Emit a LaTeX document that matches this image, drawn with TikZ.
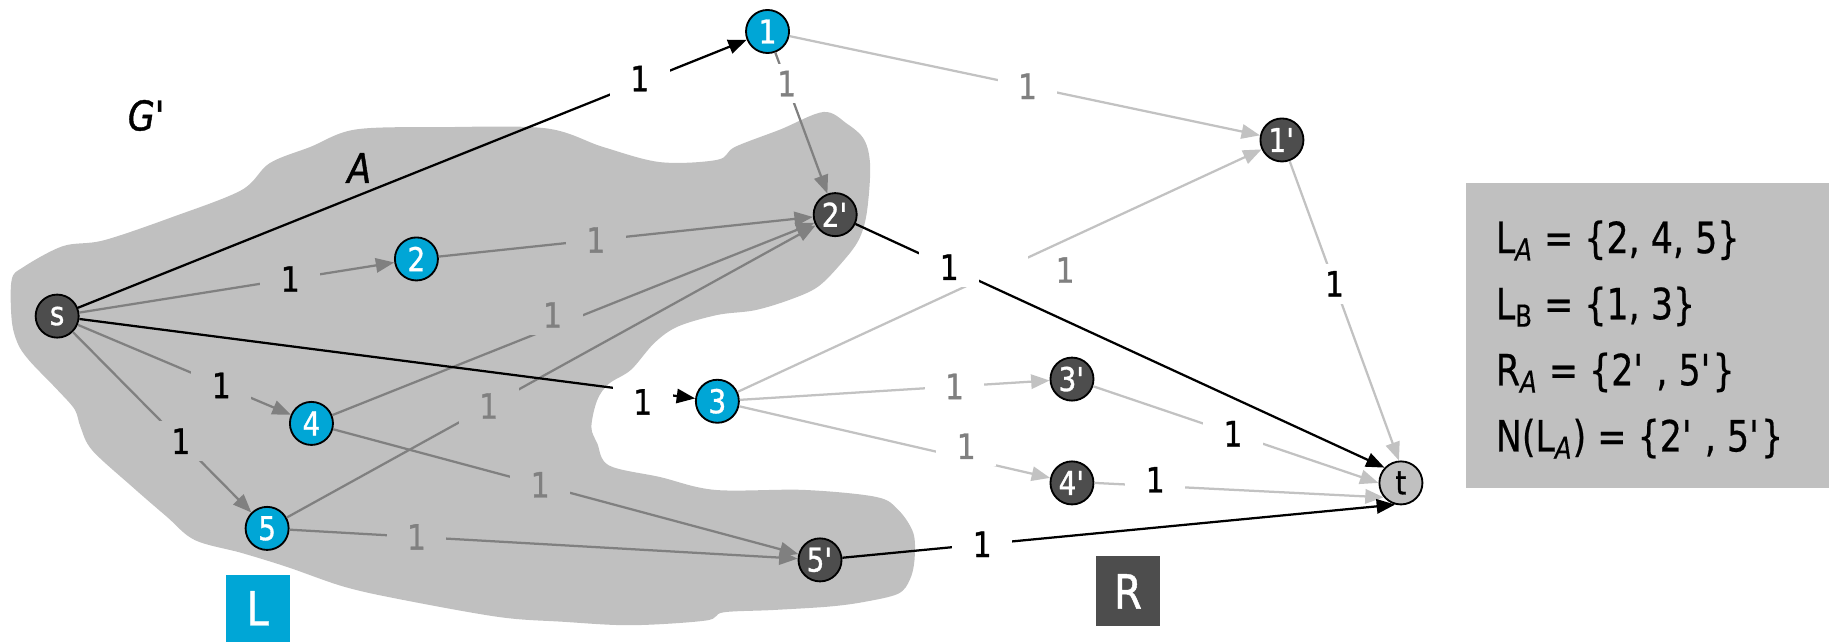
\documentclass[tikz,border=0pt]{standalone}
\usepackage{fontspec}
\setmainfont[FakeStretch=0.85,FakeBold=1]{DejaVu Sans}
\newfontfamily\infofont[FakeStretch=0.81,FakeBold=0.5]{DejaVu Sans}
\usetikzlibrary{arrows.meta}
\definecolor{nodeblue}{HTML}{00A6D6}
\definecolor{nodedark}{HTML}{4D4D4D}
\definecolor{blobgray}{HTML}{C0C0C0}
\definecolor{edgegray}{HTML}{808080}
\definecolor{edgelight}{HTML}{C2C2C2}
\newcommand{\apo}{\textquotesingle}
\newcommand{\wfont}{\fontsize{17}{20}\selectfont}
\newcommand{\vfont}{\fontsize{16}{19}\selectfont}
\newcommand{\bigfont}{\fontsize{23}{28}\selectfont}
\newcommand{\setfont}{\fontsize{21}{26}\selectfont}
\begin{document}
\begin{tikzpicture}[x=0.02cm,y=-0.02cm,
  vtx/.style={circle,draw=black,line width=0.9pt,minimum size=21pt,inner sep=0pt,font=\vfont},
  lv/.style={vtx,fill=nodeblue,text=white},
  rv/.style={vtx,fill=nodedark,text=white},
  tv/.style={vtx,fill=blobgray,text=black},
  arrowtip/.style={-{Triangle[length=9pt,width=7pt]}},
  flowedge/.style={arrowtip,draw=black,line width=1.1pt},
  aedge/.style={arrowtip,draw=edgegray,line width=1.1pt},
  redge/.style={arrowtip,draw=edgelight,line width=1.1pt},
  wt/.style={font=\wfont,inner xsep=10pt,inner ysep=3.5pt,fill=white,text=black},
  wtg/.style={wt,fill=blobgray},
  gwt/.style={wt,text=edgegray},
  gwtg/.style={wtg,text=edgegray},
  gapbox/.style={fill=white,minimum width=24pt,minimum height=16pt,inner sep=0pt},
  setbox/.style={minimum width=1.1cm,text=white,font=\bigfont},
  infoline/.style={anchor=base west,font=\infofont\setfont,inner sep=0pt}
]
\useasboundingbox (0,0) rectangle (1568,550);

% the set A, a grey region around part of the graph
\fill[blobgray] plot[smooth cycle,tension=0.55] coordinates {
 (10,240) (20,229) (54,211) (89,206) (148,186) (207,163) (231,140) (266,126)
 (305,111) (379,109) (468,110) (517,126) (566,139) (615,137) (630,126) (669,111)
 (706,96) (726,106) (741,120) (746,143) (743,183) (736,206) (721,226) (701,246)
 (677,257) (647,266) (615,270) (581,280) (561,294) (541,317) (522,329) (512,343)
 (507,366) (512,380) (522,399) (566,409) (613,420) (689,420) (751,426) (770,437)
 (783,457) (784,480) (780,497) (770,509) (741,516) (711,520) (662,523) (620,525)
 (605,532) (541,536) (482,533) (428,529) (344,514) (295,503) (246,486) (207,474)
 (167,463) (143,443) (113,417) (79,386) (69,366) (64,351) (49,334) (25,309)
 (15,294) (10,274)};

\node[font=\fontsize{20}{24}\selectfont\itshape] (gname) at (126,99) {G\apo};
\node[font=\fontsize{20}{24}\selectfont\itshape] (aname) at (308,144) {A};

% vertices
\node[rv] (s) at (49,271) {s};
\node[lv] (n1) at (658,27) {1};
\node[lv] (n2) at (357,222) {2};
\node[lv] (n3) at (615,344) {3};
\node[lv] (n4) at (267,363) {4};
\node[lv] (n5) at (229,453) {5};
\node[rv] (r1) at (1099,120) {1\apo};
\node[rv] (r2) at (716,184) {2\apo};
\node[rv] (r3) at (919,325) {3\apo};
\node[rv] (r4) at (919,414) {4\apo};
\node[rv] (r5) at (703,480) {5\apo};
\node[tv] (t) at (1201,414) {t};

% edges leaving A
\draw[redge] (n1) -- node[gwt,pos=0.506]{1} (r1);
\draw[redge] (n3) -- node[pos=0.508,gapbox]{} node[pos=0.625,yshift=-14.5pt,font=\wfont,text=edgegray]{1} (r1);
\draw[redge] (n3) -- node[gwt,pos=0.693]{1} (r3);
\draw[redge] (n3) -- node[gwt,pos=0.73,yshift=6pt]{1} (r4);
\draw[redge] (r1) -- node[wt,pos=0.41]{1} (t.95);
\draw[redge] (r3) -- node[wt,pos=0.49]{1} (t.180);
\draw[redge] (r4.east) -- node[wt,pos=0.21,yshift=3pt]{1} (t.220);

% edges of A
\draw[aedge] (s) -- node[wtg,pos=0.67]{1} (n2);
\draw[aedge] (s) -- node[wtg,pos=0.674]{1} (n4);
\draw[aedge] (s) -- node[wtg,pos=0.605]{1} (n5);
\draw[aedge] (n1) -- node[gwt,pos=0.22]{1} (r2);
\draw[aedge] (n2) -- node[gwtg,pos=0.42]{1} (r2);
\draw[aedge] (n4) -- node[gwtg,pos=0.457,yshift=6pt]{1} (r2);
\draw[aedge] (n5) -- node[gwtg,pos=0.382]{1} (r2);
\draw[aedge] (n4) -- node[gwtg,pos=0.445]{1} (r5);
\draw[aedge] (n5) -- node[gwtg,pos=0.25]{1} (r5);

% edges carrying flow
\draw[flowedge] (s) -- node[wt,pos=0.84,yshift=2pt]{1} (n1);
\draw[flowedge] (s) -- node[wt,pos=0.915,yshift=-5pt]{1} (n3);
\draw[flowedge] (r2) -- node[wt,pos=0.177]{1} (t.137);
\draw[flowedge] (r5) -- node[wt,pos=0.253]{1} (t.255);

% the sides L and R
\node[setbox,fill=nodeblue,minimum height=1.14cm] (lbox) at (221,521.5) {L};
\node[setbox,fill=nodedark,minimum height=1.2cm] (rbox) at (967,507) {R};

% the sets
\node[fill=blobgray,minimum width=6.22cm,minimum height=5.22cm,inner sep=0pt] (info) at (1412.5,287.5) {};
\node[infoline] (la) at (1282,217) {L\textsubscript{\itshape A} = \{2, 4, 5\}};
\node[infoline] (lb) at (1282,273.7) {L\textsubscript{B} = \{1, 3\}};
\node[infoline] (ra) at (1282,330.3) {R\textsubscript{\itshape A} = \{2\apo{} , 5\apo\}};
\node[infoline] (nla) at (1282,387) {N(L\textsubscript{\itshape A}) = \{2\apo{} , 5\apo\}};
\end{tikzpicture}
\end{document}
